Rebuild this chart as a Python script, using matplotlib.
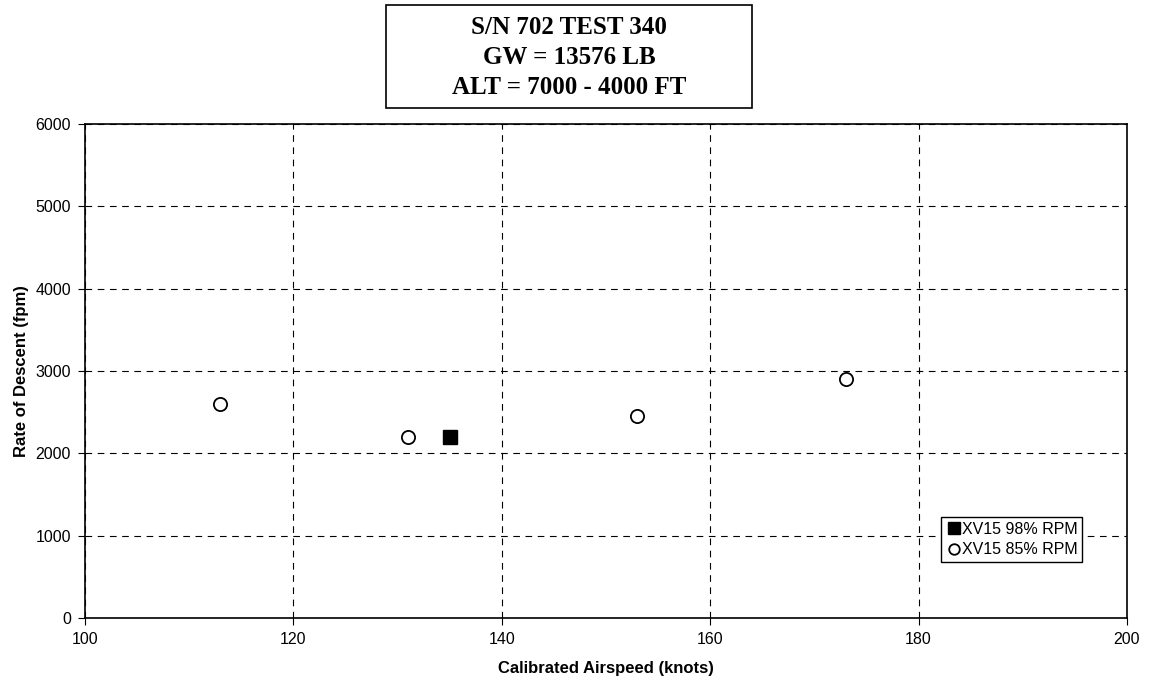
import matplotlib.pyplot as plt
from matplotlib.patches import Rectangle

# Datos
airspeed_98 = [135]
descent_98 = [2200]
airspeed_85 = [113, 131, 153, 173]
descent_85 = [2600, 2200, 2450, 2900]

title_lines = ["S/N 702 TEST 340", "GW = 13576 LB", "ALT = 7000 - 4000 FT"]
x_ticks = [100, 120, 140, 160, 180, 200]
y_ticks = [0, 1000, 2000, 3000, 4000, 5000, 6000]

plt.rcParams['font.family'] = ['Liberation Sans', 'DejaVu Sans']

fig = plt.figure(figsize=(11.5, 6.85), dpi=100)
ax = fig.add_axes([0.0739, 0.0978, 0.9061, 0.7212])

ax.plot(airspeed_98, descent_98, linestyle='none', marker='s', markersize=10,
        markerfacecolor='black', markeredgecolor='black', label='XV15 98% RPM')
ax.plot(airspeed_85, descent_85, linestyle='none', marker='o', markersize=9.5,
        markerfacecolor='white', markeredgecolor='black', markeredgewidth=1.3,
        label='XV15 85% RPM')

ax.set_xlim(100, 200)
ax.set_ylim(0, 6000)
ax.set_xticks(x_ticks)
ax.set_yticks(y_ticks)
ax.tick_params(direction='out', length=5, labelsize=11.5, pad=5, color='black')
ax.grid(True, color='black', linestyle=(0, (6, 5)), linewidth=0.8)
for s in ax.spines.values():
    s.set_linewidth(1.2)
    s.set_color('black')
    s.set_zorder(3)

ax.set_xlabel('Calibrated Airspeed (knots)', fontsize=12, fontweight='bold', labelpad=10)
ax.set_ylabel('Rate of Descent (fpm)', fontsize=12, fontweight='bold', labelpad=5)

leg = ax.legend(loc='upper left', bbox_to_anchor=(0.8215, 0.2045), fontsize=11.5,
                frameon=True, fancybox=False, edgecolor='black', framealpha=1,
                handletextpad=0.0, borderpad=0.3, labelspacing=0.35,
                handlelength=1.0, borderaxespad=0, markerscale=0.8)
leg.get_frame().set_linewidth(1.0)

# Recuadro del título
fig.patches.append(Rectangle((386 / 1150, 1 - 108 / 685), 366 / 1150, 103 / 685,
                             transform=fig.transFigure, fill=False,
                             edgecolor='black', linewidth=1.2))
for i, line in enumerate(title_lines):
    fig.text(569 / 1150, 1 - (28 + 30 * i) / 685, line, ha='center', va='center',
             fontsize=18, fontweight='bold', family=['Liberation Serif', 'DejaVu Serif'])

fig.savefig('out.png', dpi=100)
